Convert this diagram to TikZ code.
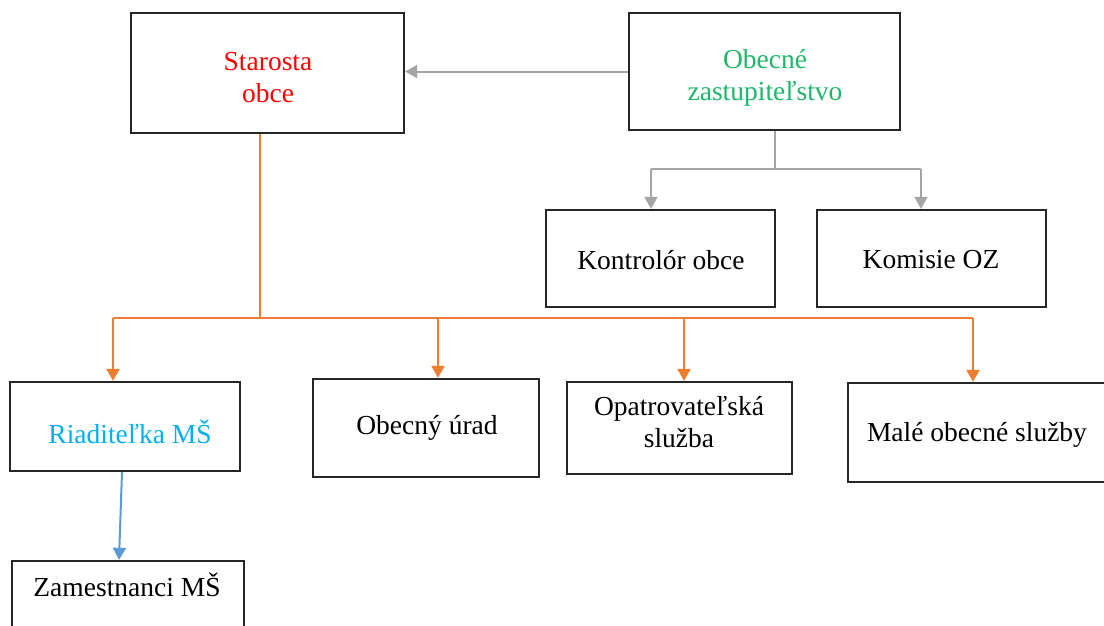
\documentclass[tikz,border=0pt]{standalone}
\usepackage{fontspec}
\setmainfont{Liberation Serif}
\usetikzlibrary{arrows.meta}
\definecolor{orgline}{HTML}{ED7D31}
\definecolor{grayline}{HTML}{A5A5A5}
\definecolor{blueline}{HTML}{5B9BD5}
\definecolor{redtxt}{HTML}{FF0000}
\definecolor{greentxt}{HTML}{1DB86A}
\definecolor{bluetxt}{HTML}{00B0F0}
\begin{document}
\begin{tikzpicture}[x=1pt,y=-1pt,
  box/.style={draw=black!85, line width=2.3pt, inner sep=0pt, fill=white},
  lbl/.style={inner sep=0pt, align=center, font=\fontsize{27.5}{32}\selectfont},
  conn/.style={line width=2pt},
  arr/.style={conn, -{Triangle[width=13pt,length=12pt]}}]
\useasboundingbox (0,0) rectangle (1104,625);
\fill[white] (0,0) rectangle (1104,625);

% boxes
\node[box, minimum width=273pt, minimum height=120pt] (star) at (267.5,73) {};
\node[box, minimum width=271pt, minimum height=117pt] (oz) at (764.5,71.5) {};
\node[box, minimum width=229pt, minimum height=97pt] (kon) at (660.5,258.5) {};
\node[box, minimum width=229pt, minimum height=97pt] (kom) at (931.5,258.5) {};
\node[box, minimum width=230pt, minimum height=89pt] (ria) at (125,426.5) {};
\node[box, minimum width=226pt, minimum height=98pt] (obu) at (426,428) {};
\node[box, minimum width=225pt, minimum height=92pt] (opa) at (679.5,428) {};
\node[box, minimum width=264pt, minimum height=99pt] (mal) at (980,432.5) {};
\node[box, minimum width=232pt, minimum height=104pt] (zam) at (128,613) {};

% texts
\node[lbl, text=redtxt] (star-t) at (268,78) {Starosta\\obce};
\node[lbl, text=greentxt] (oz-t) at (765,78) {Obecné\\zastupiteľstvo};
\node[lbl] (kon-t) at (661,260) {Kontrolór obce};
\node[lbl] (kom-t) at (931,260) {Komisie OZ};
\node[lbl, text=bluetxt] (ria-t) at (130,432) {Riaditeľka MŠ};
\node[lbl] (obu-t) at (427,428) {Obecný úrad};
\node[lbl] (opa-t) at (679,422) {Opatrovateľská\\služba};
\node[lbl] (mal-t) at (977,435) {Malé obecné služby};
\node[lbl] (zam-t) at (127,585) {Zamestnanci MŠ};

% gray connectors
\draw[arr, grayline] (oz.west) -- (oz.west -| star.east);
\coordinate (gsplit) at (775,169);
\coordinate (gA) at (651,169);
\coordinate (gB) at (921,169);
\draw[conn, grayline] (oz.south -| gsplit) -- (gsplit);
\draw[conn, grayline] (gA) -- (gB);
\draw[arr, grayline] (gA) -- (gA |- kon.north);
\draw[arr, grayline] (gB) -- (gB |- kom.north);

% orange connectors
\coordinate (ojoin) at (260,318);
\coordinate (oA) at (113,318);
\coordinate (oB) at (438,318);
\coordinate (oC) at (684,318);
\coordinate (oD) at (973,318);
\draw[conn, orgline] (star.south -| ojoin) -- (ojoin);
\draw[conn, orgline] (oA) -- (oD);
\draw[arr, orgline] (oA) -- (oA |- ria.north);
\draw[arr, orgline] (oB) -- (oB |- obu.north);
\draw[arr, orgline] (oC) -- (oC |- opa.north);
\draw[arr, orgline] (oD) -- (oD |- mal.north);

% blue connector
\coordinate (bA) at (122,471);
\coordinate (bB) at (119,561);
\draw[arr, blueline] (ria.south -| bA) -- (zam.north -| bB);
\end{tikzpicture}
\end{document}
